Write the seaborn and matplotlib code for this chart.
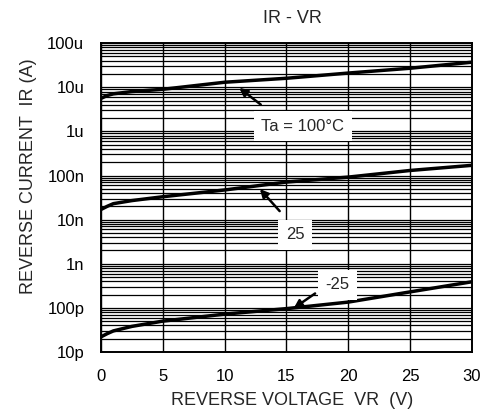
import pandas as pd
import matplotlib
matplotlib.use("Agg")
import matplotlib.pyplot as plt
import matplotlib.ticker as mticker
import seaborn as sns

# values
voltage = [0, 0.5, 1, 2.5, 5, 10, 15, 20, 25, 30]
ir_100 = [5.6e-6, 6.5e-6, 7.1e-6, 8.0e-6, 9.0e-6, 1.3e-5, 1.6e-5, 2.1e-5, 2.7e-5, 3.7e-5]
ir_25 = [1.7e-8, 2.0e-8, 2.3e-8, 2.7e-8, 3.3e-8, 4.7e-8, 7.1e-8, 9.2e-8, 1.3e-7, 1.7e-7]
ir_m25 = [2.2e-11, 2.6e-11, 3.0e-11, 3.8e-11, 5.0e-11, 7.2e-11, 9.6e-11, 1.35e-10, 2.3e-10, 3.9e-10]
temps = ["100", "25", "-25"]

y_ticks = [1e-11, 1e-10, 1e-9, 1e-8, 1e-7, 1e-6, 1e-5, 1e-4]
y_tick_labels = ["10p", "100p", "1n", "10n", "100n", "1u", "10u", "100u"]
x_ticks = [0, 5, 10, 15, 20, 25, 30]

df = pd.DataFrame({
    "VR": voltage * 3,
    "IR": ir_100 + ir_25 + ir_m25,
    "Ta": [t for t in temps for _ in voltage],
})

sns.set_theme(style="white")
plt.rcParams['font.family'] = ['Liberation Sans', 'DejaVu Sans']

fig = plt.figure(figsize=(4.84, 4.19), dpi=100)
ax = fig.add_axes([0.2087, 0.16, 0.7663, 0.737])

sns.lineplot(data=df, x="VR", y="IR", hue="Ta", palette=["black"] * 3,
             linewidth=2.5, legend=False, ax=ax)

ax.set_yscale("log")
ax.set_xlim(0, 30)
ax.set_ylim(1e-11, 1e-4)
ax.set_yticks(y_ticks)
ax.set_yticklabels(y_tick_labels)
ax.set_xticks(x_ticks)
ax.yaxis.set_minor_locator(mticker.LogLocator(base=10, subs=range(2, 10), numticks=20))
ax.yaxis.set_minor_formatter(mticker.NullFormatter())
ax.tick_params(axis="both", which="both", length=0, labelsize=12, colors="black")
ax.tick_params(axis="y", pad=12)
ax.tick_params(axis="x", pad=12)

ax.grid(True, which="both", axis="y", color="black", linewidth=0.9)
ax.grid(True, which="major", axis="x", color="black", linewidth=1.0)
for s in ax.spines.values():
    s.set_color("black")
    s.set_linewidth(1.4)

ax.set_xlabel("")
ax.set_ylabel("")
fig.text(0.603, 0.045, "REVERSE VOLTAGE  VR  (V)", ha="center", va="center", fontsize=13)
fig.text(0.058, 0.58, "REVERSE CURRENT  IR (A)", ha="center", va="center",
         rotation=90, fontsize=13)
fig.text(0.605, 0.957, "IR - VR", ha="center", va="center", fontsize=13)

# curve labels with arrows
box = dict(boxstyle="square,pad=0.45", facecolor="white", edgecolor="none")
arrow = dict(arrowstyle="-|>", color="black", lw=1.8, mutation_scale=12)

ax.annotate("", xy=(11.0, 1.06e-5), xytext=(13.1, 3.7e-6), arrowprops=arrow)
ax.text(16.3, 1.3e-6, "Ta = 100°C", ha="center", va="center", fontsize=12, bbox=box, zorder=5)

ax.annotate("", xy=(12.7, 5.5e-8), xytext=(14.6, 1.4e-8), arrowprops=arrow)
ax.text(15.7, 4.5e-9, "25", ha="center", va="center", fontsize=12, bbox=box, zorder=5)

ax.annotate("", xy=(15.4, 9.0e-11), xytext=(17.5, 2.3e-10), arrowprops=arrow)
ax.text(19.1, 3.3e-10, "-25", ha="center", va="center", fontsize=12, bbox=box, zorder=5)

plt.savefig("out.png", dpi=100)
